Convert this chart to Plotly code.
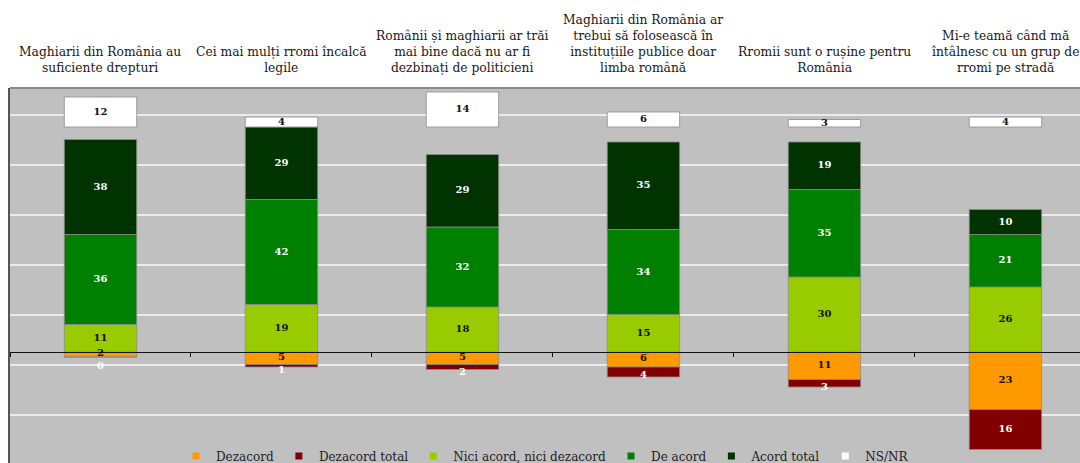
import numpy as np
import plotly.graph_objects as go

# Survey statements (one stacked column each)
categories = [
    "Maghiarii din România au<br>suficiente drepturi",
    "Cei mai mulți rromi încalcă<br>legile",
    "Românii și maghiarii ar trăi<br>mai bine dacă nu ar fi<br>dezbinați de politicieni",
    "Maghiarii din România ar<br>trebui să folosească în<br>instituțiile publice doar<br>limba română",
    "Rromii sunt o rușine pentru<br>România",
    "Mi-e teamă când mă<br>întâlnesc cu un grup de<br>rromi pe stradă",
]

# Answer shares (%)
dezacord = [2, 5, 5, 6, 11, 23]
dezacord_total = [0, 1, 2, 4, 3, 16]
nici = [11, 19, 18, 15, 30, 26]
de_acord = [36, 42, 32, 34, 35, 21]
acord_total = [38, 29, 29, 35, 19, 10]
ns_nr = [12, 4, 14, 6, 3, 4]

# NS/NR columns sit on a common baseline above the stacks
ns_base = 90

legend_names = ["Dezacord", "Dezacord total", "Nici acord, nici dezacord",
                "De acord", "Acord total", "NS/NR"]
colors = ["#FF9900", "#800000", "#99CC00", "#008000", "#003300", "#FFFFFF"]
label_colors = ["#111111", "#FFFFFF", "#111111", "#FFFFFF", "#FFFFFF", "#111111"]
# vertical nudge of labels (axis units) so thin segments keep readable labels
label_nudge = [
    [0.3] * 6,
    [-3.6, -2.0, -2.0, -1.5, -1.5, 0.0],
    [0.0] * 6,
    [0.0] * 6,
    [0.0] * 6,
    [0.0] * 6,
]

SERIF = "DejaVu Serif, serif"
x_idx = list(range(len(categories)))

n = np.array(nici, dtype=float)
da = np.array(de_acord, dtype=float)
at = np.array(acord_total, dtype=float)
dz = np.array(dezacord, dtype=float)
dzt = np.array(dezacord_total, dtype=float)
ns = np.array(ns_nr, dtype=float)

# (values, base) per series, in legend order
segments = [
    (-dz, np.zeros_like(dz)),
    (-dzt, -dz),
    (n, np.zeros_like(n)),
    (da, n),
    (at, n + da),
    (ns, np.full_like(ns, ns_base)),
]

fig = go.Figure()

for (vals, base), col in zip(segments, colors):
    fig.add_trace(go.Bar(
        x=x_idx, y=vals, base=base, width=0.4,
        marker=dict(color=col, line=dict(color="rgba(140,140,140,0.8)", width=1)),
        showlegend=False, hoverinfo="skip",
    ))

# value labels centred in each segment
raw_values = [dezacord, dezacord_total, nici, de_acord, acord_total, ns_nr]
for (vals, base), raw, lc, nudge in zip(segments, raw_values, label_colors, label_nudge):
    fig.add_trace(go.Scatter(
        x=x_idx, y=base + vals / 2 + np.array(nudge), mode="text",
        text=[str(v) for v in raw],
        textfont=dict(family=SERIF, size=10, color=lc, weight="bold"),
        showlegend=False, hoverinfo="skip",
    ))

# legend entries with small square keys
for name, col in zip(legend_names, colors):
    fig.add_trace(go.Scatter(
        x=[None], y=[None], mode="markers", name=name,
        marker=dict(symbol="square", size=7, color=col),
    ))

ymin, ymax = -44.4, 105.6

# statement titles above each column
for i, cat in enumerate(categories):
    fig.add_annotation(
        x=i, y=1, xref="x", yref="paper", yanchor="bottom", yshift=11,
        text=cat, showarrow=False, align="center",
        font=dict(family=SERIF, size=12.3, color="#1A1A1A"),
    )

# plot frame top edge
fig.add_shape(type="line", xref="paper", yref="paper", x0=0, x1=1, y0=1, y1=1,
              line=dict(color="#8A8A8A", width=2))

fig.update_layout(
    width=1080, height=463,
    margin=dict(l=10, r=0, t=88, b=0, autoexpand=False),
    paper_bgcolor="white", plot_bgcolor="#C0C0C0",
    barmode="overlay",
    showlegend=True,
    legend=dict(orientation="h", x=0.5, xanchor="center", y=-0.02, yanchor="bottom",
                bgcolor="rgba(0,0,0,0)", font=dict(family=SERIF, size=12, color="#222222"),
                itemwidth=30, tracegroupgap=0),
    xaxis=dict(
        range=[-0.5, 5.412], showgrid=False, zeroline=False,
        tickmode="array", tickvals=[i + 0.5 for i in range(-1, len(categories))],
        showticklabels=False, ticks="outside", ticklen=4, tickcolor="#111111",
        showline=True, linecolor="#111111", linewidth=1,
        anchor="free", position=(0 - ymin) / (ymax - ymin),
    ),
    yaxis=dict(
        range=[ymin, ymax], showticklabels=False,
        tickmode="linear", tick0=-5, dtick=20,
        showgrid=True, gridcolor="#EBEBEB", gridwidth=2, zeroline=False,
        showline=True, linecolor="#555555", linewidth=2,
    ),
)

fig.write_html("out.html")
